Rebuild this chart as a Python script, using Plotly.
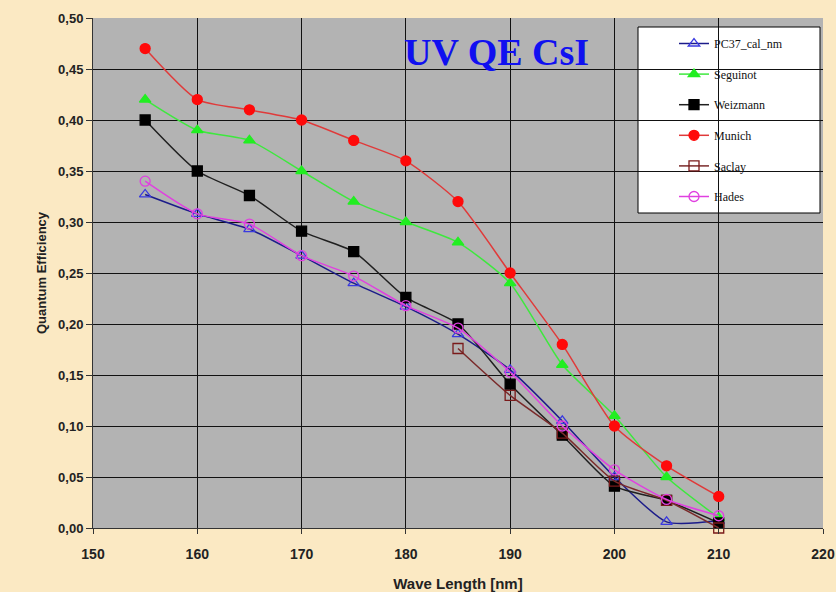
import plotly.graph_objects as go

# Wavelengths (nm) and quantum efficiency per measurement
wavelength = [155, 160, 165, 170, 175, 180, 185, 190, 195, 200, 205, 210]
pc37_cal_nm = [0.327, 0.308, 0.293, 0.267, 0.240, 0.217, 0.190, 0.155, 0.105, 0.050, 0.006, 0.007]
seguinot = [0.42, 0.39, 0.38, 0.35, 0.32, 0.30, 0.28, 0.24, 0.16, 0.11, 0.05, 0.01]
weizmann = [0.40, 0.35, 0.326, 0.291, 0.271, 0.226, 0.200, 0.141, 0.091, 0.041, 0.027, 0.005]
munich = [0.47, 0.42, 0.41, 0.40, 0.38, 0.36, 0.32, 0.25, 0.18, 0.10, 0.061, 0.031]
saclay_wl = [185, 190, 195, 200, 205, 210]
saclay = [0.176, 0.130, 0.093, 0.046, 0.027, 0.000]
hades = [0.340, 0.308, 0.298, 0.267, 0.247, 0.218, 0.196, 0.153, 0.100, 0.057, 0.028, 0.012]

x_ticks = [150, 160, 170, 180, 190, 200, 210, 220]
y_ticks = [0.0, 0.05, 0.10, 0.15, 0.20, 0.25, 0.30, 0.35, 0.40, 0.45, 0.50]
y_labels = [f"{v:.2f}".replace(".", ",") for v in y_ticks]

series = [
    ("PC37_cal_nm", wavelength, pc37_cal_nm, "#1c1c8a", "#3a3ae0", "triangle-up-open"),
    ("Seguinot", wavelength, seguinot, "#3ee83e", "#22ee22", "triangle-up"),
    ("Weizmann", wavelength, weizmann, "#202020", "#000000", "square"),
    ("Munich", wavelength, munich, "#e03a3a", "#ff0a0a", "circle"),
    ("Saclay", saclay_wl, saclay, "#7a2a2a", "#7a1a1a", "square-open"),
    ("Hades", wavelength, hades, "#e040e0", "#e040e0", "circle-open"),
]

fig = go.Figure()
for i, (name, xs, ys, lc, mc, sym) in enumerate(series):
    fig.add_trace(go.Scatter(
        x=xs, y=ys, name=name, mode="lines+markers",
        line=dict(color=lc, width=1.5, shape="spline", smoothing=0.6),
        marker=dict(symbol=sym, size=10, color=mc,
                    line=dict(color=mc, width=1.3)),
        legendgroup=f"g{i}",
        cliponaxis=False,
    ))

L, R, T, B = 93, 13, 18, 64
W, H = 836, 592
PW, PH = W - L - R, H - T - B

fig.update_layout(
    width=W, height=H,
    margin=dict(l=L, r=R, t=T, b=B, autoexpand=False),
    paper_bgcolor="#fbe9c3",
    plot_bgcolor="#b3b3b3",
    showlegend=True,
    legend=dict(
        x=(674 - L) / PW, y=(H - B - 29) / PH, xanchor="left", yanchor="top",
        bgcolor="rgba(0,0,0,0)", borderwidth=0,
        font=dict(family="Liberation Serif, Times New Roman", size=12, color="#111111"),
        tracegroupgap=11.6, traceorder="grouped", itemwidth=30,
    ),
    shapes=[dict(
        type="rect", xref="paper", yref="paper",
        x0=(638 - L) / PW, x1=(820 - L) / PW,
        y0=(H - B - 213) / PH, y1=(H - B - 27) / PH,
        fillcolor="white", line=dict(color="black", width=1), layer="below",
    )],
    annotations=[dict(
        text="<b>UV QE CsI</b>", xref="paper", yref="paper",
        x=(496 - L) / PW, y=(H - B - 52) / PH, xanchor="center", yanchor="middle",
        showarrow=False,
        font=dict(family="Liberation Serif, Times New Roman", size=38, color="#1010f0"),
    )],
)

fig.update_xaxes(
    range=[150, 220], tickvals=x_ticks, ticktext=[f"<b>{v}</b>" for v in x_ticks],
    showgrid=True, gridcolor="#111111", gridwidth=1,
    showline=True, linecolor="#333333", linewidth=1,
    ticks="outside", ticklen=5, tickcolor="#333333",
    ticklabelstandoff=8,
    tickfont=dict(family="Liberation Sans Narrow, Arial Narrow, Liberation Sans", size=14, color="#222222"),
    title=dict(text="<b>Wave Length [nm]</b>", standoff=18,
               font=dict(family="Liberation Sans Narrow, Arial Narrow, Liberation Sans", size=15, color="#222222")),
    zeroline=False,
)
fig.update_yaxes(
    range=[0, 0.5], tickvals=y_ticks, ticktext=[f"<b>{t}</b>" for t in y_labels],
    showgrid=True, gridcolor="#111111", gridwidth=1,
    showline=True, linecolor="#333333", linewidth=1,
    ticks="outside", ticklen=6, tickcolor="#333333",
    tickfont=dict(family="Liberation Sans, Arial", size=13, color="#222222"),
    title=dict(text="<b>Quantum Efficiency</b>", standoff=8,
               font=dict(family="Liberation Sans, Arial", size=13, color="#222222")),
    zeroline=False,
)

fig.write_html("out.html")
